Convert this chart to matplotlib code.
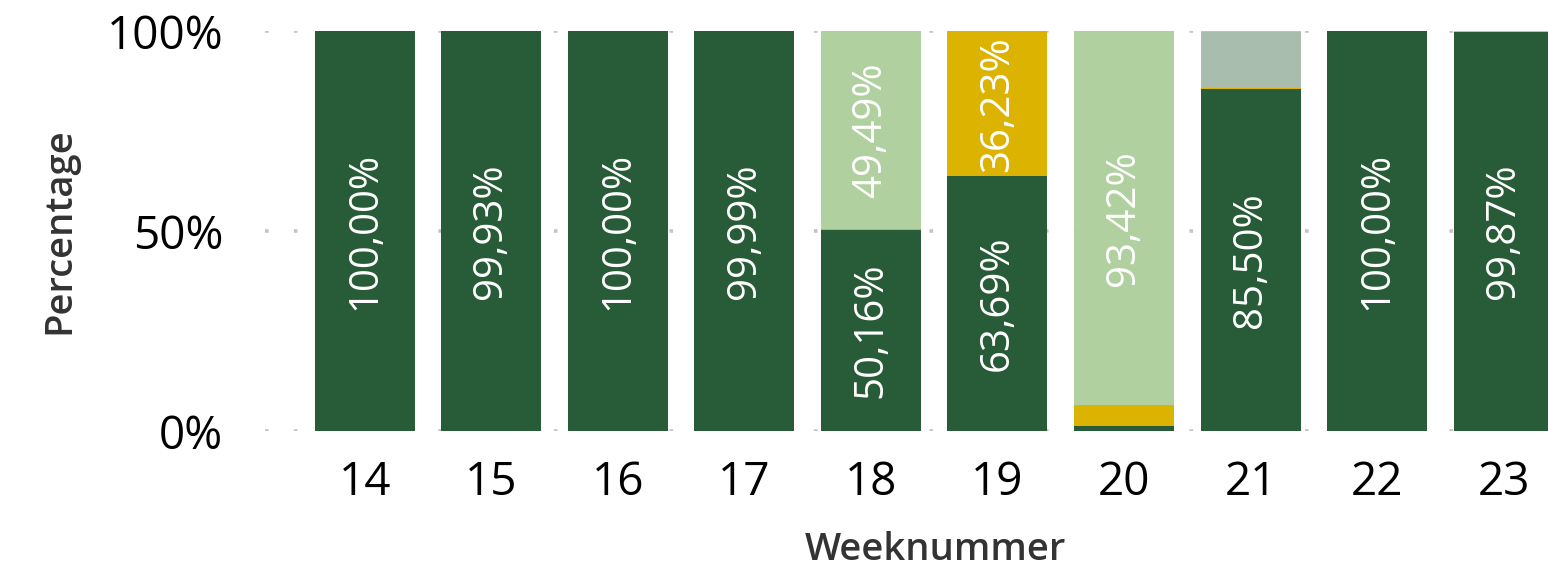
import numpy as np
import matplotlib.pyplot as plt
from matplotlib.ticker import FuncFormatter

plt.rcParams['font.family'] = ['Open Sans', 'DejaVu Sans']

weeks = ['14', '15', '16', '17', '18', '19', '20', '21', '22', '23']
# percentage per category, stacked bottom to top
donker = [100.00, 99.93, 100.00, 99.99, 50.16, 63.69, 1.20, 85.50, 100.00, 99.87]
geel = [0.004, 0.00, 0.004, 0.01, 0.35, 36.23, 5.38, 0.30, 0.004, 0.00]
grijs = [0.00, 0.00, 0.00, 0.00, 0.00, 0.00, 0.00, 14.00, 0.00, 0.00]
licht = [0.00, 0.07, 0.00, 0.00, 49.49, 0.08, 93.42, 0.20, 0.00, 0.13]

series = [
    (donker, '#285B38', True),
    (geel, '#DBB300', True),
    (grijs, '#A8BDAE', False),
    (licht, '#B0D0A0', True),
]
min_label = 20

fig = plt.figure(figsize=(15.48, 5.72), dpi=100)
ax = fig.add_axes([0.171, 0.2465, 0.829, 0.6993])

x = np.arange(len(weeks))
bottom = np.zeros(len(weeks))
for values, color, labelled in series:
    vals = np.array(values)
    ax.bar(x, vals, width=0.79, bottom=bottom, color=color, zorder=2)
    if labelled:
        for xi, v, b in zip(x, vals, bottom):
            if v >= min_label:
                txt = f'{v:.2f}%'.replace('.', ',')
                ax.text(xi, b + v / 2, txt, rotation=90, ha='center', va='center',
                        color='white', fontsize=29, zorder=3)
    bottom += vals

ax.set_xlim(-0.79, 9.35)
ax.set_ylim(0, 100)
ax.set_yticks([0, 50, 100])
ax.yaxis.set_major_formatter(FuncFormatter(lambda v, p: f'{v:.0f}%'))
ax.set_xticks(x)
ax.set_xticklabels(weeks)
ax.tick_params(axis='both', length=0, colors='black')
ax.tick_params(axis='y', pad=30, labelsize=33)
ax.tick_params(axis='x', pad=21, labelsize=33)

ax.grid(axis='y', color='#C4C4C4', linestyle=(0, (1, 7)), linewidth=2.6, zorder=0)
ax.set_axisbelow(True)
for s in ax.spines.values():
    s.set_visible(False)

ax.set_xlabel('Weeknummer', fontsize=27.5, fontweight='semibold', color='#333333')
ax.set_ylabel('Percentage', fontsize=27.5, fontweight='semibold', color='#333333')
ax.xaxis.set_label_coords(0.523, -0.25)
ax.yaxis.set_label_coords(-0.145, 0.5)

fig.savefig('out.png', dpi=100)
